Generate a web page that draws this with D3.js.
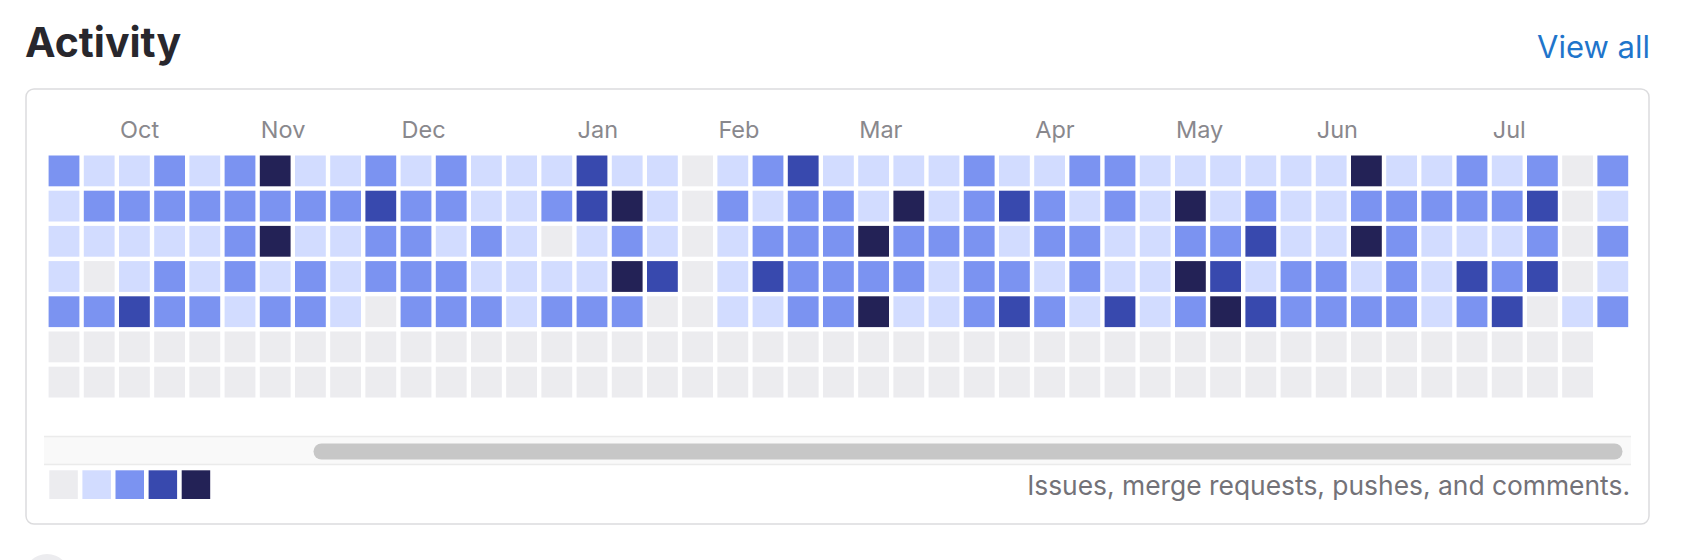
<!DOCTYPE html>
<html>
<head>
<meta charset="utf-8">
<script src="https://cdn.jsdelivr.net/npm/d3@7/dist/d3.min.js"></script>
<style>
  html, body { margin: 0; padding: 0; background: #fff; }
  svg { display: block; font-family: Inter, "Noto Sans", sans-serif; }
</style>
</head>
<body>
<svg id="chart" width="1696" height="560"></svg>
<script>
// ---- Data: activity level (0-4) per week column, one array per weekday row ----
const mon = [2,1,1,2,1,2,4,1,1,2,1,2,1,1,1,3, 1,1,0,1,2,3,1,1,1,1,2,1,1,2,2, 1,1,1,1,1,1,4,1,1,2,1,2,0,2];
const tue = [1,2,2,2,2,2,2,2,2,3,2,2,1,1,2,3, 4,1,0,2,1,2,2,1,4,1,2,3,2,1,2, 1,4,1,2,1,1,2,2,2,2,2,3,0,1];
const wed = [1,1,1,1,1,2,4,1,1,2,2,1,2,1,0,1, 2,1,0,1,2,2,2,4,2,2,2,1,2,2,1, 1,2,2,3,1,1,4,2,1,1,1,2,0,2];
const thu = [1,0,1,2,1,2,1,2,1,2,2,2,1,1,1,1, 4,3,0,1,3,2,2,2,2,1,2,2,1,2,1, 1,4,3,1,2,2,1,2,1,3,2,3,0,1];
const fri = [2,2,3,2,2,1,2,2,1,0,2,2,2,1,2,2, 2,0,0,1,1,2,2,4,1,1,2,3,2,1,3, 1,2,4,3,2,2,2,2,1,2,3,0,1,2];
const sat = [0,0,0,0,0,0,0,0,0,0,0,0,0,0,0,0, 0,0,0,0,0,0,0,0,0,0,0,0,0,0,0, 0,0,0,0,0,0,0,0,0,0,0,0,0];
const sun = [0,0,0,0,0,0,0,0,0,0,0,0,0,0,0,0, 0,0,0,0,0,0,0,0,0,0,0,0,0,0,0, 0,0,0,0,0,0,0,0,0,0,0,0,0];
const days = [mon, tue, wed, thu, fri, sat, sun];

const months = ["Oct","Nov","Dec","Jan","Feb","Mar","Apr","May","Jun","Jul"];
const monthWeeks = [2,6,10,15,19,23,28,32,36,41];

const levels = [0,1,2,3,4];
const levelColors = ["#ececef","#d2dcff","#7b93f1","#3849ae","#232256"];

const titleText = "Activity";
const linkText = "View all";
const legendText = "Issues, merge requests, pushes, and comments.";

// ---- Drawing ----
const svg = d3.select("#chart");
const nWeeks = d3.max(days, d => d.length);

const x = d3.scaleLinear().domain([0, nWeeks - 1]).range([48.6, 48.6 + (nWeeks - 1) * 35.2]);
const y = d3.scaleLinear().domain([0, 6]).range([155.5, 155.5 + 6 * 35.2]);
const cell = 30.8;
const color = d3.scaleOrdinal().domain(levels).range(levelColors);

// page avatar stub below card
svg.append("circle").attr("cx", 47).attr("cy", 577).attr("r", 23).attr("fill", "#ececef");

// title + link
svg.append("text").attr("x", 25).attr("y", 57)
  .attr("font-size", 41).attr("font-weight", 700).attr("fill", "#28272d")
  .text(titleText);
svg.append("text").attr("x", 1650).attr("y", 58).attr("text-anchor", "end")
  .attr("font-size", 31).attr("fill", "#1f75cb").text(linkText);

// card
svg.append("rect").attr("x", 26).attr("y", 89).attr("width", 1623).attr("height", 435)
  .attr("rx", 8).attr("fill", "#fff").attr("stroke", "#dcdcde").attr("stroke-width", 1.5);

// month labels
svg.append("g").selectAll("text").data(months).join("text")
  .attr("x", (d, i) => x(monthWeeks[i]) + 1)
  .attr("y", 137.5)
  .attr("font-size", 23.5).attr("fill", "#89888d")
  .text(d => d);

// cells
const cells = [];
days.forEach((row, r) => row.forEach((v, c) => cells.push({ r, c, v })));
svg.append("g").selectAll("rect").data(cells).join("rect")
  .attr("x", d => x(d.c)).attr("y", d => y(d.r))
  .attr("width", cell).attr("height", cell)
  .attr("fill", d => color(d.v));

// scrollbar
svg.append("rect").attr("x", 44).attr("y", 436.5).attr("width", 1587).attr("height", 28)
  .attr("fill", "#f9f9f9");
svg.append("line").attr("x1", 44).attr("x2", 1631).attr("y1", 436.5).attr("y2", 436.5)
  .attr("stroke", "#ebebeb").attr("stroke-width", 1.5);
svg.append("line").attr("x1", 44).attr("x2", 1631).attr("y1", 464.5).attr("y2", 464.5)
  .attr("stroke", "#ebebeb").attr("stroke-width", 1.5);
svg.append("rect").attr("x", 313.5).attr("y", 443.5).attr("width", 1309).attr("height", 16)
  .attr("rx", 8).attr("fill", "#c7c7c7");

// legend
const lx = d3.scaleLinear().domain([0, 4]).range([49.3, 49.3 + 4 * 33.1]);
svg.append("g").selectAll("rect").data(levels).join("rect")
  .attr("x", d => lx(d)).attr("y", 470.3)
  .attr("width", 28.5).attr("height", 28.7)
  .attr("fill", d => color(d));
svg.append("text").attr("x", 1630).attr("y", 494.5).attr("text-anchor", "end")
  .attr("font-size", 26.4).attr("fill", "#737278").text(legendText);
</script>
</body>
</html>
